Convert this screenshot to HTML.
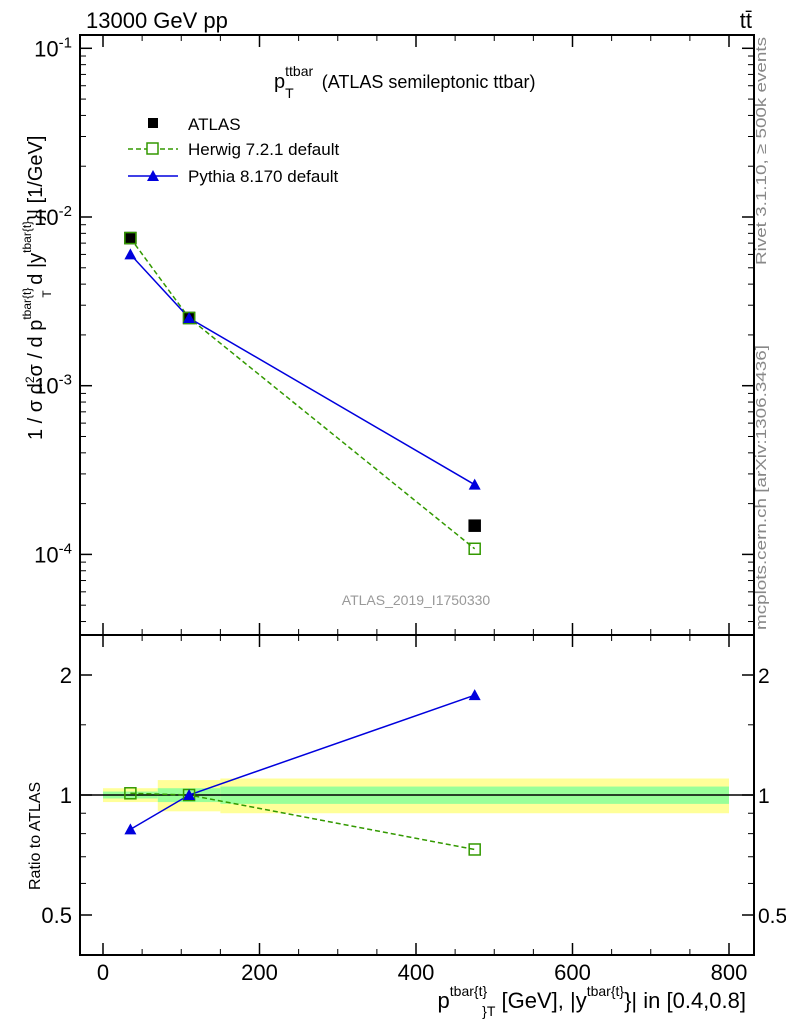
<!DOCTYPE html>
<html><head><meta charset="utf-8"><style>
body{margin:0;background:#fff;}
svg text{font-family:"Liberation Sans",sans-serif;}
</style></head><body>
<svg id="c" width="786" height="1024" xmlns="http://www.w3.org/2000/svg"></svg>
<script>
const binEdges=[0,70,150,800];
const xVals=[35,110,475];
const atlas=[0.0075,0.00252,0.000148];
const herwig=[0.0075,0.00252,0.000108];
const pythia=[0.0060,0.00252,0.000259];
const herwigRatio=[1.01,1.0,0.73];
const pythiaRatio=[0.82,1.0,1.78];
const bandYellow=[0.04,0.09,0.1];
const bandGreen=[0.02,0.04,0.05];
const xTicks=[0,200,400,600,800];
const yTicksMain=[-4,-3,-2,-1];
const yTicksRatio=[0.5,1,2];

const NS="http://www.w3.org/2000/svg";
const svg=document.getElementById('c');
function el(t,a,p){const e=document.createElementNS(NS,t);for(const k in a)e.setAttribute(k,a[k]);(p||svg).appendChild(e);return e;}
const L=80,R=754,T=35,M=635,B=955;
const xs=v=>103+(v-0)*(729-103)/800;
const ym=v=>217-(Math.log10(v)+2)*168.7;
const yr=v=>795-Math.log2(v)*120;

for(let i=0;i<3;i++){
  const x0=xs(binEdges[i]),x1=xs(binEdges[i+1]);
  let r=el('rect',{x:x0,y:yr(1+bandYellow[i]),width:x1-x0,height:yr(1-bandYellow[i])-yr(1+bandYellow[i]),fill:'#ffff99'});
  
  
  r=el('rect',{x:x0,y:yr(1+bandGreen[i]),width:x1-x0,height:yr(1-bandGreen[i])-yr(1+bandGreen[i]),fill:'#99ff99'});
  
  
}
el('line',{x1:L,x2:R,y1:795,y2:795,stroke:'#000','stroke-width':1.5});

el('rect',{x:L,y:T,width:R-L,height:M-T,fill:'none',stroke:'#000','stroke-width':2});
el('rect',{x:L,y:M,width:R-L,height:B-M,fill:'none',stroke:'#000','stroke-width':2});

for(const t of xTicks){
  const x=xs(t);
  for(const [y0,y1] of [[M,M-12],[T,T+12],[B,B-12],[M,M+12]]) el('line',{x1:x,x2:x,y1:y0,y2:y1,stroke:'#000','stroke-width':1.5});
  const tx=el('text',{x:x,y:980,'font-size':22,'text-anchor':'middle'});tx.textContent=t;
  
  
}
for(let v=50;v<=800;v+=50){if(v%200==0)continue;const x=xs(v);
  for(const [y0,y1] of [[M,M-6],[T,T+6],[B,B-6],[M,M+6]]) el('line',{x1:x,x2:x,y1:y0,y2:y1,stroke:'#000'});}

for(const e of yTicksMain){
  const y=ym(Math.pow(10,e));
  el('line',{x1:L,x2:L+12,y1:y,y2:y,stroke:'#000','stroke-width':1.5});
  el('line',{x1:R,x2:R-12,y1:y,y2:y,stroke:'#000','stroke-width':1.5});
  const tx=el('text',{x:72,y:y+8,'font-size':22,'text-anchor':'end'});
  tx.innerHTML='10<tspan dy="-9" font-size="15">'+e+'</tspan>';
  
  
  for(let m=2;m<=9;m++){const yy=ym(m*Math.pow(10,e-1));if(yy>M||yy<T)continue;
    el('line',{x1:L,x2:L+6,y1:yy,y2:yy,stroke:'#000'});el('line',{x1:R,x2:R-6,y1:yy,y2:yy,stroke:'#000'});}
}
for(const t of yTicksRatio){
  const y=yr(t);
  el('line',{x1:L,x2:L+12,y1:y,y2:y,stroke:'#000','stroke-width':1.5});
  el('line',{x1:R,x2:R-12,y1:y,y2:y,stroke:'#000','stroke-width':1.5});
  let tx=el('text',{x:72,y:y+8,'font-size':22,'text-anchor':'end'});tx.textContent=t;
  
  
  tx=el('text',{x:758,y:y+8,'font-size':21});tx.textContent=t;
  
  
}
for(const t of [0.6,0.7,0.8,0.9,1.5,3]){const y=yr(t);if(y<M)continue;
  el('line',{x1:L,x2:L+6,y1:y,y2:y,stroke:'#000'});el('line',{x1:R,x2:R-6,y1:y,y2:y,stroke:'#000'});}

function poly(vals,fy,col,dash,name){
  const p=el('polyline',{points:vals.map((v,i)=>xs(xVals[i])+','+fy(v)).join(' '),fill:'none',stroke:col,'stroke-width':1.5,'stroke-dasharray':dash||'none'});
  
  
}
function sq(x,y,fill,stroke,name){const r=el('rect',{x:x-5.5,y:y-5.5,width:11,height:11,fill:fill,stroke:stroke,'stroke-width':1.5});
  }
function tri(x,y,name){const p=el('polygon',{points:`${x-6},${y+5} ${x+6},${y+5} ${x},${y-6}`,fill:'#0000dd'});
  }

poly(herwig,ym,'#339900','5,3','herwig-line');
poly(pythia,ym,'#0000dd',null,'pythia-line');
atlas.forEach((v,i)=>sq(xs(xVals[i]),ym(v),'#000','#000','atlas-point'));
herwig.forEach((v,i)=>sq(xs(xVals[i]),ym(v),'none','#339900','herwig-point'));
pythia.forEach((v,i)=>tri(xs(xVals[i]),ym(v),'pythia-point'));

poly(herwigRatio,yr,'#339900','5,3','herwig-ratio-line');
poly(pythiaRatio,yr,'#0000dd',null,'pythia-ratio-line');
herwigRatio.forEach((v,i)=>sq(xs(xVals[i]),yr(v),'none','#339900','herwig-ratio-point'));
pythiaRatio.forEach((v,i)=>tri(xs(xVals[i]),yr(v),'pythia-ratio-point'));
</script>
<svg width="786" height="1024" style="position:absolute;left:0;top:0">
<text x="86" y="28" font-size="22">13000 GeV pp</text>
<text x="752" y="28" font-size="22" text-anchor="end">tt̄</text>
<text x="274" y="88" font-size="20">p<tspan dy="-12" font-size="14">ttbar</tspan><tspan dx="-28" dy="22" font-size="14">T</tspan><tspan dx="28" dy="-10" font-size="18">(ATLAS semileptonic ttbar)</tspan></text>
<g font-size="17">
<rect x="148" y="118" width="10" height="10" fill="#000"/><text x="188" y="130">ATLAS</text>
<line x1="128" x2="178" y1="149" y2="149" stroke="#339900" stroke-width="1.5" stroke-dasharray="5,3"/><rect x="147" y="143" width="11" height="11" fill="#fff" stroke="#339900" stroke-width="1.5"/><text x="188" y="155">Herwig 7.2.1 default</text>
<line x1="128" x2="178" y1="176" y2="176" stroke="#0000dd" stroke-width="1.5"/><polygon points="147,181 159,181 153,170" fill="#0000dd"/><text x="188" y="182">Pythia 8.170 default</text>
</g>
<text x="416" y="605" font-size="14" fill="#999" text-anchor="middle">ATLAS_2019_I1750330</text>
<text transform="translate(766,265) rotate(-90)" font-size="15" fill="#888" textLength="228" lengthAdjust="spacingAndGlyphs">Rivet 3.1.10, ≥ 500k events</text>
<text transform="translate(766,630) rotate(-90)" font-size="15" fill="#888" textLength="285" lengthAdjust="spacingAndGlyphs">mcplots.cern.ch [arXiv:1306.3436]</text>
<text transform="translate(42,440) rotate(-90)" font-size="20">1 / σ d<tspan dy="-8" font-size="12">2</tspan><tspan dy="8">σ / d p</tspan><tspan dy="-11" font-size="12">tbar{t}</tspan><tspan dx="-10" dy="20" font-size="12">T</tspan><tspan dy="-9"> d |y</tspan><tspan dy="-11" font-size="12">tbar{t}</tspan><tspan dy="11">}| [1/GeV]</tspan></text>
<text transform="translate(40,890) rotate(-90)" font-size="16">Ratio to ATLAS</text>
<text x="746" y="1008" font-size="22" text-anchor="end">p<tspan dy="-12" font-size="14">tbar{t}</tspan><tspan dx="-5" dy="20" font-size="14">}</tspan><tspan font-size="14">T</tspan><tspan dy="-8"> [GeV], |y</tspan><tspan dy="-12" font-size="14">tbar{t}</tspan><tspan dy="12">}| in [0.4,0.8]</tspan></text>
</svg>
</body></html>
